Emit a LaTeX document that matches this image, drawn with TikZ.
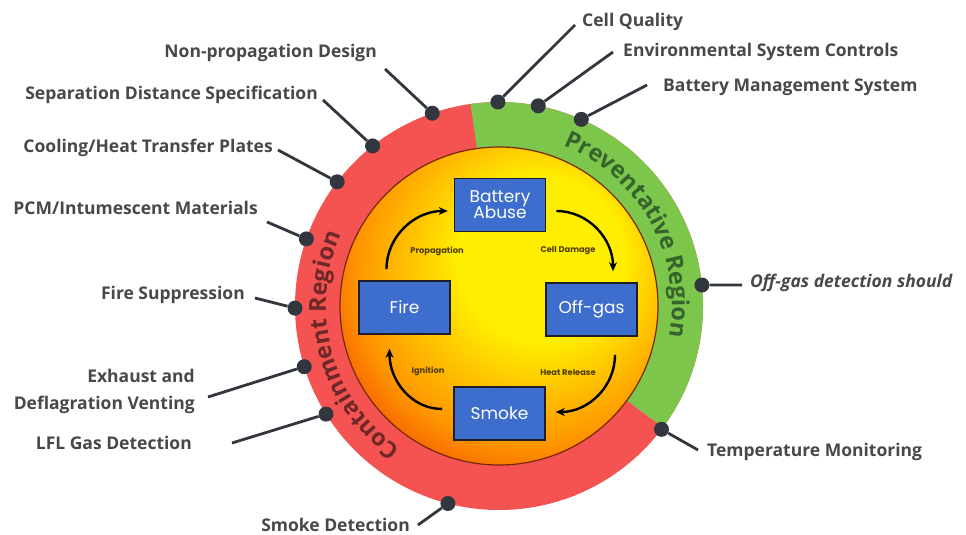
\documentclass[tikz,border=0pt]{standalone}
\usepackage{fontspec}
\setmainfont{Open Sans}
\newfontfamily\boxfont{Poppins}
\usetikzlibrary{arrows.meta,decorations.text}

\definecolor{ringred}{RGB}{245,82,82}
\definecolor{ringgreen}{RGB}{124,198,76}
\definecolor{hotyellow}{RGB}{255,238,0}
\definecolor{hotorange}{RGB}{255,150,0}
\definecolor{hotred}{RGB}{240,72,0}
\definecolor{rimline}{RGB}{120,40,10}
\definecolor{boxblue}{RGB}{62,110,205}
\definecolor{boxedge}{RGB}{30,30,40}
\definecolor{pincolor}{RGB}{50,54,62}
\definecolor{labelgray}{RGB}{72,72,72}
\definecolor{greentext}{RGB}{55,100,45}
\definecolor{redtext}{RGB}{110,40,40}
\definecolor{stepgold}{RGB}{80,60,0}

% warm core: yellow centre pushed towards the upper right
\pgfdeclareradialshading{core}{\pgfpoint{8.5bp}{9.5bp}}{%
  color(0bp)=(hotyellow); color(13bp)=(hotyellow); color(27bp)=(hotorange);
  color(35bp)=(hotred); color(60bp)=(hotred)}

\tikzset{
  stage/.style={draw=boxedge, line width=1.6pt, fill=boxblue, text=white,
    font=\boxfont\fontsize{17}{19}\selectfont, align=center,
    minimum width=91pt, minimum height=53pt, inner sep=0pt},
  flow/.style={line width=2.4pt, -{Stealth[length=9pt,width=8pt]}},
  flowlabel/.style={font=\boxfont\bfseries\fontsize{8.3}{10}\selectfont, text=stepgold, inner sep=0pt},
  pinhead/.style={circle, fill=pincolor, minimum size=15pt, inner sep=0pt},
  leader/.style={line width=2.8pt, draw=pincolor},
  notelabel/.style={font=\bfseries\fontsize{17.5}{20}\selectfont, text=labelgray,
    inner sep=0pt, text height=13pt, text depth=4pt},
  ringtext/.style={decorate, decoration={text along path, text align=center,
    text={|\bfseries\fontsize{23.5}{24}\selectfont\color{#1}|\ringwords}}},
}

\begin{document}
\begin{tikzpicture}[x=1pt,y=1pt]
\useasboundingbox (0,0) rectangle (966,535);

\begin{scope}[shift={(499,229)}]
  % outer ring: containment (red) with the preventative (green) sector
  \fill[ringred] (0,0) circle[radius=204];
  \fill[ringgreen] (0,0) -- (-36.5:204) arc[start angle=-36.5, end angle=98, radius=204] -- cycle;
  % hot core
  \shadedraw[shading=core, draw=rimline, line width=1.2pt] (0,0) circle[radius=159];

  % region names set along the ring
  \def\ringwords{Preventative Region}
  \path[ringtext=greentext] (82:173) arc[start angle=82, end angle=-24, radius=173];
  \def\ringwords{Containment Region}
  \path[ringtext=redtext] (250:173) arc[start angle=250, end angle=141, radius=173];

  % pins on the rim
  \node[pinhead] (pNonprop) at (109.1:204) {};
  \node[pinhead] (pSep)     at (128.3:204) {};
  \node[pinhead] (pCool)    at (142.5:204) {};
  \node[pinhead] (pPcm)     at (160.8:204) {};
  \node[pinhead] (pFire)    at (180.6:204) {};
  \node[pinhead] (pVent)    at (197.3:204) {};
  \node[pinhead] (pLfl)     at (212.0:204) {};
  \node[pinhead] (pSmoke)   at (255.5:204) {};
  \node[pinhead] (pCell)    at (90.3:204) {};
  \node[pinhead] (pEnv)     at (78.9:204) {};
  \node[pinhead] (pBms)     at (66.2:204) {};
  \node[pinhead] (pOffgas)  at (5.9:204) {};
  \node[pinhead] (pTemp)    at (-37.2:204) {};
\end{scope}

% failure cycle
\node[stage] (abuse)  at (500,330)   {Battery\\[-3pt]Abuse};
\node[stage] (fire)   at (404.5,227.5) {Fire};
\node[stage] (offgas) at (591.5,225.5) {Off-gas};
\node[stage] (smoke)  at (499.5,121.5) {Smoke};

\draw[flow] ([xshift=-18pt,yshift=11pt]fire.north) to[out=90,in=180] ([xshift=-6pt,yshift=-6pt]abuse.west);
\draw[flow] ([xshift=10pt,yshift=-6pt]abuse.east) to[out=0,in=90] ([xshift=21.5pt,yshift=11pt]offgas.north);
\draw[flow] ([xshift=23.5pt,yshift=-18pt]offgas.south) to[out=-90,in=0] ([xshift=10pt,yshift=1.5pt]smoke.east);
\draw[flow] ([xshift=-11pt,yshift=4.5pt]smoke.west) to[out=180,in=-90] ([xshift=-15pt,yshift=-14pt]fire.south);

\node[flowlabel] (tProp)  at (437,284) {Propagation};
\node[flowlabel] (tCell)  at (568,284) {Cell Damage};
\node[flowlabel] (tIgn)   at (428,164) {Ignition};
\node[flowlabel] (tHeat)  at (568,163) {Heat Release};

% measures around the ring
\node[notelabel, anchor=east] (lNonprop) at (377,482) {Non-propagation Design};
\node[notelabel, anchor=east] (lSep)     at (318,440) {Separation Distance Specification};
\node[notelabel, anchor=east] (lCool)    at (273,387) {Cooling/Heat Transfer Plates};
\node[notelabel, anchor=east] (lPcm)     at (258,325) {PCM/Intumescent Materials};
\node[notelabel, anchor=east] (lFire)    at (245,240) {Fire Suppression};
\node[font=\bfseries\fontsize{17.5}{27}\selectfont, text=labelgray, inner sep=0pt,
      align=right, anchor=east] (lVent) at (195,144) {Exhaust and\\Deflagration Venting};
\node[notelabel, anchor=east] (lLfl)     at (192,90)  {LFL Gas Detection};
\node[notelabel, anchor=east] (lSmoke)   at (410,8)   {Smoke Detection};
\node[notelabel, anchor=west] (lCell)    at (582,513) {Cell Quality};
\node[notelabel, anchor=west] (lEnv)     at (623,483) {Environmental System Controls};
\node[notelabel, anchor=west] (lBms)     at (663,448) {Battery Management System};
\node[notelabel, anchor=west, font=\bfseries\itshape\fontsize{17.5}{20}\selectfont] (lOffgas) at (750,252) {Off-gas detection should};
\node[notelabel, anchor=west] (lTemp)    at (707,83)  {Temperature Monitoring};

\coordinate (eNonprop) at (385,466);
\coordinate (eSep)     at (323,435);
\coordinate (eCool)    at (278,385);
\coordinate (ePcm)     at (267,313);
\coordinate (eFire)    at (255,237);
\coordinate (eVent)    at (208,138);
\coordinate (eLfl)     at (232,92);
\coordinate (eSmoke)   at (418,10);
\coordinate (eCell)    at (575,510);
\coordinate (eEnv)     at (613,483);
\coordinate (eBms)     at (647,450);
\coordinate (eOffgas)  at (742,250);
\coordinate (eTemp)    at (698,85);

\foreach \k in {Nonprop,Sep,Cool,Pcm,Fire,Vent,Lfl,Smoke,Cell,Env,Bms,Offgas,Temp}
  \draw[leader] (p\k) -- (e\k);
\end{tikzpicture}
\end{document}
